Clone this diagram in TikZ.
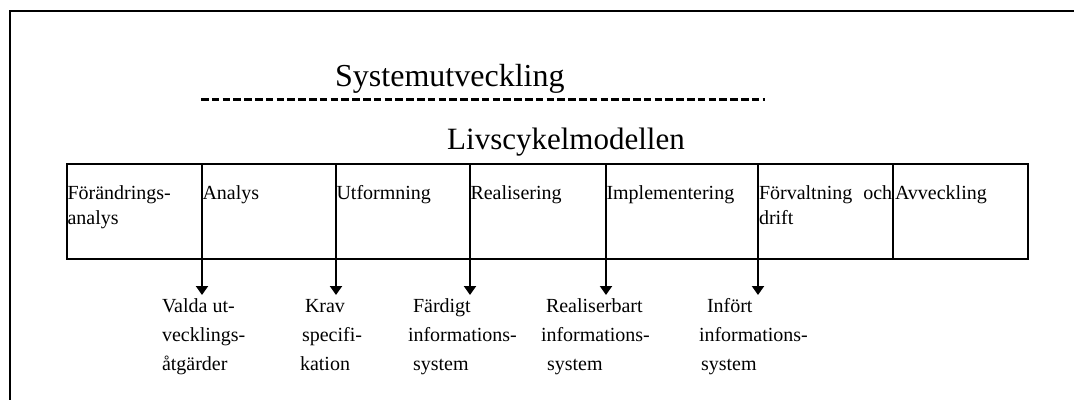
\documentclass[tikz,border=0pt]{standalone}
\usepackage{fontspec}
\setmainfont{Liberation Serif}
\usetikzlibrary{arrows.meta}

% multi-line text block whose baseline is the first line
\newcommand{\blocktext}[3]{\parbox[t]{#1}{\fontsize{20}{#2}\selectfont #3}}

\begin{document}
\begin{tikzpicture}[x=1pt,y=-1pt,
  phase/.style={draw, line width=2.8pt, outer sep=0pt, inner sep=0pt,
    minimum height=95pt, anchor=north west},
  phasetext/.style={anchor=base west, inner sep=0pt, outer sep=0pt},
  outtext/.style={anchor=base west, inner sep=0pt, outer sep=0pt},
  result/.style={line width=2pt, -{Triangle[width=12pt,length=9pt]}},
  title/.style={anchor=base west, inner sep=0pt}
]
\useasboundingbox (0,0) rectangle (1074,400);

% outer frame (open to the right and bottom)
\draw[line width=2.2pt] (1074,11) -- (10,11) -- (10,400);

% headings
\node[title, font=\fontsize{32}{38}\selectfont] (sys) at (335,86) {Systemutveckling};
\draw[line width=2.2pt, dash pattern=on 7.6pt off 3.2pt] (201,99.5) -- (765,99.5);
\node[title, font=\fontsize{31}{37}\selectfont] (liv) at (447,149.5) {Livscykelmodellen};

% phases of the life cycle
\node[phase, minimum width=135pt] (p1) at (67,164) {};
\node[phase, minimum width=134pt] (p2) at (202,164) {};
\node[phase, minimum width=134pt] (p3) at (336,164) {};
\node[phase, minimum width=136pt] (p4) at (470,164) {};
\node[phase, minimum width=152pt] (p5) at (606,164) {};
\node[phase, minimum width=135pt] (p6) at (758,164) {};
\node[phase, minimum width=135pt] (p7) at (893,164) {};

\node[phasetext] (t1) at (67.5,199) {\blocktext{130pt}{25pt}{Förändrings-\\analys}};
\node[phasetext] (t2) at (202.5,199) {\blocktext{130pt}{25pt}{Analys}};
\node[phasetext] (t3) at (336.5,199) {\blocktext{130pt}{25pt}{Utformning}};
\node[phasetext] (t4) at (470.5,199) {\blocktext{130pt}{25pt}{Realisering}};
\node[phasetext] (t5) at (606.5,199) {\blocktext{150pt}{25pt}{Implementering}};
\node[phasetext] (t6) at (759,199) {\blocktext{140pt}{25pt}{Förvaltning\hspace{11pt}och\\drift}};
\node[phasetext] (t7) at (895,199) {\blocktext{130pt}{25pt}{Avveckling}};

% results of each phase
\coordinate (r1) at (202,295);
\coordinate (r2) at (336,295);
\coordinate (r3) at (470,295);
\coordinate (r4) at (606,295);
\coordinate (r5) at (758,295);
\draw[result] (p1.south east) -- (r1);
\draw[result] (p2.south east) -- (r2);
\draw[result] (p3.south east) -- (r3);
\draw[result] (p4.south east) -- (r4);
\draw[result] (p5.south east) -- (r5);

\node[outtext] (o1) at (162,312) {\blocktext{110pt}{29pt}{Valda ut-\\vecklings-\\åtgärder}};
\node[outtext] (o2) at (300,312) {\blocktext{100pt}{29pt}{\hspace*{5pt}Krav\\\hspace*{2pt}specifi-\\kation}};
\node[outtext] (o3) at (408,312) {\blocktext{120pt}{29pt}{\hspace*{5pt}Färdigt\\informations-\\\hspace*{5pt}system}};
\node[outtext] (o4) at (541,312) {\blocktext{120pt}{29pt}{\hspace*{5pt}Realiserbart\\informations-\\\hspace*{6pt}system}};
\node[outtext] (o5) at (699,312) {\blocktext{120pt}{29pt}{\hspace*{8pt}Infört\\informations-\\\hspace*{2pt}system}};
\end{tikzpicture}
\end{document}
